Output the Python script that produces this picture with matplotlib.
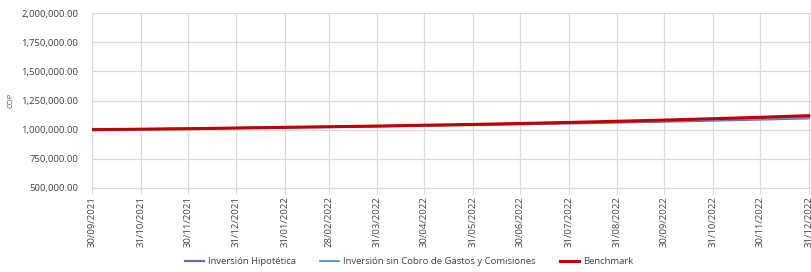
import matplotlib
matplotlib.use("Agg")
import matplotlib.pyplot as plt
from matplotlib.ticker import FuncFormatter
import pandas as pd

dates = ["2021-09-30", "2021-10-31", "2021-11-30", "2021-12-31", "2022-01-31",
         "2022-02-28", "2022-03-31", "2022-04-30", "2022-05-31", "2022-06-30",
         "2022-07-31", "2022-08-31", "2022-09-30", "2022-10-31", "2022-11-30",
         "2022-12-31"]
hipotetica = [1000000, 1004500, 1008500, 1013500, 1019000, 1023000, 1028500, 1034500,
              1040000, 1046500, 1053500, 1061000, 1069000, 1078000, 1087000, 1097000]
sin_cobro = [1000000, 1005000, 1009500, 1015000, 1021000, 1025500, 1031500, 1038000,
             1044000, 1051000, 1058500, 1066500, 1075000, 1084500, 1094000, 1104500]
benchmark = [1000000, 1004000, 1008000, 1014000, 1020000, 1025000, 1031000, 1038000,
             1045000, 1053000, 1062000, 1072000, 1082000, 1094000, 1106000, 1120000]
tick_labels = ["30/09/2021", "31/10/2021", "30/11/2021", "31/12/2021", "31/01/2022",
               "28/02/2022", "31/03/2022", "30/04/2022", "31/05/2022", "30/06/2022",
               "31/07/2022", "31/08/2022", "30/09/2022", "31/10/2022", "30/11/2022",
               "31/12/2022"]
y_ticks = [500000, 750000, 1000000, 1250000, 1500000, 1750000, 2000000]

plt.rcParams['font.family'] = ['Open Sans', 'DejaVu Sans']

x = pd.to_datetime(dates)
fig = plt.figure(figsize=(8.11, 2.72), dpi=100)
ax = fig.add_axes([92/811, 1 - 188/272, (811 - 92)/811, (188 - 13)/272])

ax.plot(x, hipotetica, color="#7E5FB8", lw=1.6, label="Inversión Hipotética", zorder=3)
ax.plot(x, sin_cobro, color="#5B9BD5", lw=1.4, label="Inversión sin Cobro de Gastos y Comisiones", zorder=3)
ax.plot(x, benchmark, color="#C00000", lw=2.2, label="Benchmark", zorder=4)

ax.set_ylim(500000, 2000000)
ax.set_yticks(y_ticks)
ax.yaxis.set_major_formatter(FuncFormatter(lambda v, p: f"{v:,.2f}"))
ax.set_xlim(pd.Timestamp("2021-09-30"), pd.Timestamp("2023-01-01 12:00"))
ax.set_xticks(x)
ax.set_xticklabels(tick_labels, rotation=90)

ax.grid(True, color="#D9D9D9", lw=0.9)
ax.set_axisbelow(True)
for s in ["top", "right", "left"]:
    ax.spines[s].set_visible(False)
ax.spines["bottom"].set_color("#D9D9D9")
ax.tick_params(axis="y", length=0, labelsize=6.8, colors="#404040", pad=10)
ax.tick_params(axis="x", length=4, color="#D9D9D9", labelsize=6.8, labelcolor="#404040", pad=2)

ax.set_ylabel("COP", fontsize=5.5, color="#44546A", labelpad=5)

fig.legend(loc="center", bbox_to_anchor=(409/811, 1 - 262/272), ncol=3, frameon=False,
           fontsize=6.8, handlelength=2.0, handletextpad=0.4, columnspacing=2.6,
           labelcolor="#404040")

fig.savefig("out.png", dpi=100)
